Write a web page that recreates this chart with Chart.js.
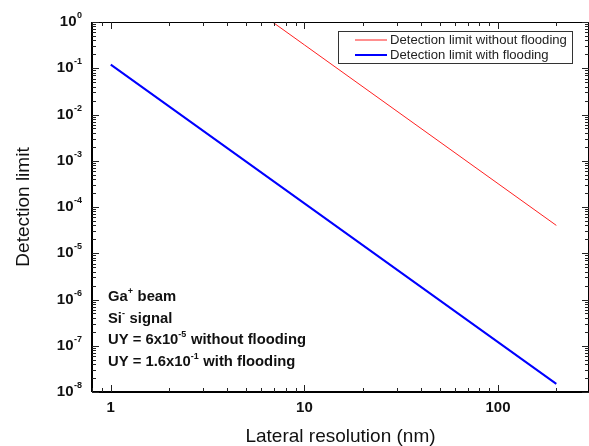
<!DOCTYPE html>
<html><head><meta charset="utf-8">
<script src="https://cdn.jsdelivr.net/npm/chart.js@4"></script>
<style>html,body{margin:0;padding:0;background:#fff;overflow:hidden}#wrap{width:589px;height:446px;position:relative}</style>
</head><body><div id="wrap"><canvas id="c" width="589" height="446"></canvas></div>
<script>
// ---- data ----
const seriesNames = ['Detection limit without flooding', 'Detection limit with flooding'];
const xRed  = [6.84, 10, 100, 200];
const yRed  = [1.0, 0.32, 3.2e-4, 4.0e-5];
const xBlue = [1, 10, 100, 200];
const yBlue = [0.12, 1.2e-4, 1.2e-7, 1.5e-8];
const xTickValues = [1, 10, 100];
const xTickLabels = ['1', '10', '100'];
const yTickExponents = [0, -1, -2, -3, -4, -5, -6, -7, -8];
const xTitle = 'Lateral resolution (nm)';
const yTitle = 'Detection limit';
const notes = [
  [['Ga', false], ['+', true], [' beam', false]],
  [['Si', false], ['-', true], [' signal', false]],
  [['UY = 6x10', false], ['-5', true], [' without flooding', false]],
  [['UY = 1.6x10', false], ['-1', true], [' with flooding', false]]
];

const FONT = '"Liberation Sans", Arial, sans-serif';
const toPts = (xs, ys) => xs.map((x, i) => ({x, y: ys[i]}));

const axesPlugin = {
  id: 'axesPlugin',
  afterDraw(chart) {
    const ctx = chart.ctx, ca = chart.chartArea;
    const xs = chart.scales.x, ys = chart.scales.y;
    ctx.save();
    // frame
    ctx.strokeStyle = '#000';
    ctx.lineWidth = 1;
    ctx.beginPath(); ctx.moveTo(ca.left, ca.top + 0.5); ctx.lineTo(ca.right, ca.top + 0.5); ctx.stroke();
    ctx.beginPath(); ctx.moveTo(ca.right - 0.5, ca.top); ctx.lineTo(ca.right - 0.5, ca.bottom); ctx.stroke();
    ctx.lineWidth = 2;
    ctx.beginPath(); ctx.moveTo(ca.left, ca.bottom); ctx.lineTo(ca.right, ca.bottom); ctx.stroke();
    ctx.beginPath(); ctx.moveTo(ca.left, ca.top); ctx.lineTo(ca.left, ca.bottom); ctx.stroke();
    // ticks
    ctx.lineWidth = 1;
    ctx.strokeStyle = '#222';
    const xMin = xs.min, xMax = xs.max;
    for (let e = -1; e <= 3; e++) {
      for (let m = 1; m <= 9; m++) {
        const v = m * Math.pow(10, e);
        if (v < xMin || v > xMax) continue;
        const px = Math.round(xs.getPixelForValue(v)) + 0.5;
        const len = m === 1 ? 7 : 4;
        ctx.beginPath(); ctx.moveTo(px, ca.bottom); ctx.lineTo(px, ca.bottom - len); ctx.stroke();
        ctx.beginPath(); ctx.moveTo(px, ca.top); ctx.lineTo(px, ca.top + len); ctx.stroke();
      }
    }
    for (let e = -8; e <= 0; e++) {
      for (let m = 1; m <= 9; m++) {
        const v = m * Math.pow(10, e);
        if (v < ys.min * 0.999 || v > ys.max * 1.001) continue;
        const py = Math.round(ys.getPixelForValue(v)) + 0.5;
        const len = m === 1 ? 7 : 4;
        ctx.beginPath(); ctx.moveTo(ca.left, py); ctx.lineTo(ca.left + len, py); ctx.stroke();
        ctx.beginPath(); ctx.moveTo(ca.right, py); ctx.lineTo(ca.right - len, py); ctx.stroke();
      }
    }
    // x tick labels
    ctx.fillStyle = '#111';
    ctx.font = 'bold 15px ' + FONT;
    ctx.textAlign = 'center'; ctx.textBaseline = 'middle';
    xTickValues.forEach((v, i) => ctx.fillText(xTickLabels[i], xs.getPixelForValue(v), ca.bottom + 16));
    // y tick labels 10^n
    yTickExponents.forEach(n => {
      const py = ys.getPixelForValue(Math.pow(10, n));
      const sup = String(n);
      ctx.font = 'bold 9px ' + FONT;
      const sw = ctx.measureText(sup).width;
      ctx.textAlign = 'left'; ctx.textBaseline = 'alphabetic';
      const right = ca.left - 10;
      ctx.fillText(sup, right - sw, py - 4);
      ctx.font = 'bold 15px ' + FONT;
      const bw = ctx.measureText('10').width;
      ctx.fillText('10', right - sw - bw - 0.5, py + 4);
    });
    // axis titles
    ctx.font = '19px ' + FONT;
    ctx.fillStyle = '#111';
    ctx.textAlign = 'center'; ctx.textBaseline = 'middle';
    ctx.fillText(xTitle, (ca.left + ca.right) / 2, 437);
    ctx.save();
    ctx.translate(24, 207); ctx.rotate(-Math.PI / 2);
    ctx.fillText(yTitle, 0, 0);
    ctx.restore();
    // annotation
    ctx.textAlign = 'left'; ctx.textBaseline = 'alphabetic';
    notes.forEach((segs, r) => {
      let x = 108; const y = 301 + r * 21.7;
      segs.forEach(([t, sup]) => {
        ctx.font = (sup ? 'bold 9px ' : 'bold 14.8px ') + FONT;
        ctx.fillText(t, x, sup ? y - 7 : y);
        x += ctx.measureText(t).width + (sup ? 0.5 : 0);
      });
    });
    // legend
    const lx = 338, ly = 31, lw = 234, lh = 32;
    ctx.fillStyle = '#fff';
    ctx.fillRect(lx, ly, lw, lh);
    ctx.strokeStyle = '#333'; ctx.lineWidth = 1;
    ctx.strokeRect(lx + 0.5, ly + 0.5, lw, lh);
    ctx.font = '13.1px ' + FONT;
    ctx.textBaseline = 'middle';
    chart.data.datasets.forEach((ds, i) => {
      const yy = ly + 9 + i * 15;
      ctx.strokeStyle = ds.borderColor; ctx.lineWidth = ds.borderWidth;
      ctx.beginPath(); ctx.moveTo(355, yy); ctx.lineTo(387, yy); ctx.stroke();
      ctx.fillStyle = '#222';
      ctx.fillText(ds.label, 390, yy);
    });
    ctx.restore();
  }
};

new Chart(document.getElementById('c'), {
  type: 'line',
  data: {
    datasets: [
      {label: seriesNames[0], data: toPts(xRed, yRed), borderColor: '#ff2020', borderWidth: 1, pointRadius: 0, fill: false, tension: 0},
      {label: seriesNames[1], data: toPts(xBlue, yBlue), borderColor: '#0000ff', borderWidth: 2, pointRadius: 0, fill: false, tension: 0}
    ]
  },
  options: {
    responsive: false, animation: false,
    layout: {padding: {left: 92, top: 22, right: 0, bottom: 54}},
    plugins: {legend: {display: false}, tooltip: {enabled: false}},
    scales: {
      x: {type: 'logarithmic', min: 0.8, max: 295, display: false},
      y: {type: 'logarithmic', min: 1e-8, max: 1, display: false}
    }
  },
  plugins: [axesPlugin]
});
</script></body></html>
